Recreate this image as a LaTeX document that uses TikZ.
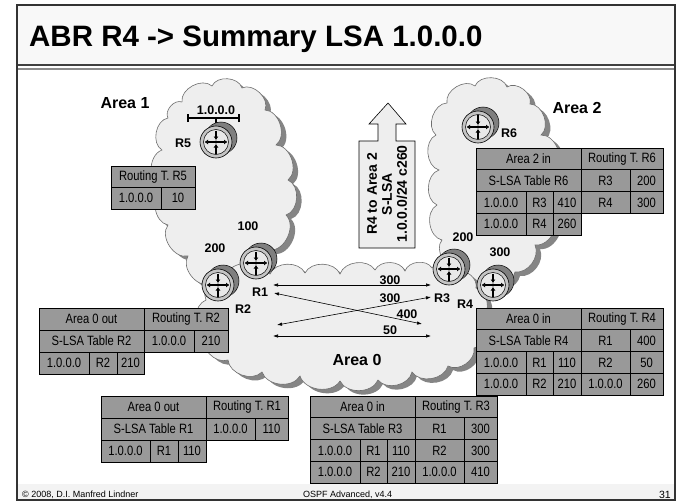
\documentclass[tikz,border=0pt]{standalone}
\usepackage{fontspec}
\setmainfont{Liberation Sans}
\newfontfamily\tabfont{Liberation Sans}[FakeStretch=0.83]
\usetikzlibrary{arrows.meta,shadows}

\definecolor{barfill}{HTML}{F8F8F8}
\definecolor{footfill}{HTML}{F3F3F3}
\definecolor{cloudfill}{HTML}{EEEEEE}
\definecolor{cloudline}{HTML}{6E6E6E}
\definecolor{cloudshadow}{HTML}{858585}
\definecolor{cellfill}{HTML}{999999}
\definecolor{routerside}{HTML}{7F7F7F}
\definecolor{routerface}{HTML}{C4C4C4}
\definecolor{routerin}{HTML}{E8E8E8}

\tikzset{
    areacloud/.style={fill=cloudfill, draw=cloudline, line width=0.6pt,
        drop shadow={shadow xshift=5pt, shadow yshift=-4pt, fill=cloudshadow, opacity=1}},
    tcell/.style={draw=black, fill=cellfill, line width=0.7pt, inner sep=0pt, outer sep=0pt,
        font=\tabfont\fontsize{13.5}{15}\selectfont},
    lbl/.style={font=\bfseries\fontsize{12.5}{14}\selectfont, inner sep=0pt},
    arealbl/.style={font=\bfseries\fontsize{16}{18}\selectfont, inner sep=0pt},
    link/.style={{Latex[length=5pt,width=3.5pt]}-{Latex[length=5pt,width=3.5pt]}, line width=0.6pt},
    cross/.style={line width=1.4pt},
}

% one table cell: name, x1, y1, x2, y2, text
\newcommand{\tabcell}[6]{%
    \node[tcell, minimum width={(#4-#2)*1pt}, minimum height={(#5-#3)*1pt}]
        (#1) at ({(#2+#4)/2},{(#3+#5)/2}) {#6};}

% router icon round a named coordinate
\newcommand{\routericon}[1]{%
    \draw[fill=routerside, line width=0.5pt] ([shift={(5,-4)}]#1) circle (16pt);
    \fill[routerside] ([shift={(2.5,-2)}]#1) circle (16pt);
    \draw[fill=routerface, line width=0.6pt] (#1) circle (16pt);
    \draw[fill=routerin, line width=0.5pt] (#1) circle (12.5pt);
    \draw[cross, {Latex[length=3.5pt,width=5pt]}-{Latex[length=3.5pt,width=5pt]}]
        ([xshift=-11.5pt]#1) -- ([xshift=11.5pt]#1);
    \draw[cross, -{Latex[length=3.5pt,width=5pt]}] ([yshift=11.5pt]#1) -- ([yshift=2pt]#1);
    \draw[cross, -{Latex[length=3.5pt,width=5pt]}] ([yshift=-11.5pt]#1) -- ([yshift=-2pt]#1);
    \fill (#1) circle (1.7pt);}

\begin{document}
\begin{tikzpicture}[x=1pt, y=-1pt]

    \useasboundingbox (0,0) rectangle (678,503);
    \fill[white] (0,0) rectangle (678,503);

    % slide frame
    \fill[barfill] (17,5) rectangle (675,65);
    \fill[footfill] (17,484) rectangle (675,500);
    \draw[line width=1.5pt, black!75] (17,65) -- (675,65);
    \draw[line width=2pt, black!45] (17,69) -- (675,69);
    \draw[line width=1.5pt, black!80] (17,5) rectangle (675,500);

    \node[anchor=base west, inner sep=0pt, font=\bfseries\fontsize{29.5}{32}\selectfont]
        (title) at (29,46.5) {ABR R4 -> Summary LSA 1.0.0.0};

    \node[anchor=base west, inner sep=0pt, font=\fontsize{9}{10}\selectfont]
        (copy) at (22,497) {© 2008, D.I. Manfred Lindner};
    \node[anchor=base west, inner sep=0pt, font=\fontsize{9}{10}\selectfont]
        (course) at (303,497) {OSPF Advanced, v4.4};
    \node[anchor=base east, inner sep=0pt, font=\fontsize{10.5}{12}\selectfont]
        (page) at (671,498.5) {31};

    % areas
    \draw[areacloud]
        (182,102) to[bend left=70] (212,86) to[bend left=70] (242,88)
        to[bend left=70] (265,110) to[bend left=70] (276,145)
        to[bend left=70] (288,180) to[bend left=70] (286,215)
        to[bend left=70] (270,250) to[bend left=60] (240,272)
        to[bend left=60] (210,284) to[bend left=70] (188,256)
        to[bend left=70] (168,225) to[bend left=70] (162,190)
        to[bend left=70] (162,150) to[bend left=70] (168,118)
        to[bend left=70] (182,102);

    \draw[areacloud]
        (447,103) to[bend left=70] (475,86) to[bend left=70] (507,87)
        to[bend left=70] (530,104) to[bend left=70] (541,135)
        to[bend left=70] (555,170) to[bend left=70] (553,210)
        to[bend left=70] (535,245) to[bend left=60] (515,272)
        to[bend left=60] (485,282) to[bend left=60] (458,268)
        to[bend left=70] (442,240) to[bend left=70] (437,205)
        to[bend left=70] (439,170) to[bend left=70] (436,135)
        to[bend left=70] (447,103);

    \draw[areacloud]
        (225,275) to[bend left=60] (270,274) to[bend left=65] (305,273)
        to[bend left=65] (340,274) to[bend left=65] (375,270) to[bend left=65] (405,271)
        to[bend left=65] (432,268) to[bend left=60] (458,272) to[bend left=60] (476,288)
        to[bend left=65] (482,318) to[bend left=65] (474,348)
        to[bend left=65] (448,366) to[bend left=65] (412,372)
        to[bend left=65] (378,380) to[bend left=65] (340,381)
        to[bend left=65] (300,376) to[bend left=65] (262,372)
        to[bend left=65] (228,360) to[bend left=65] (204,335)
        to[bend left=65] (206,300) to[bend left=60] (225,275);

    % summary LSA sent by R4
    \draw[fill=cloudfill, line width=0.6pt]
        (388,103) -- (406,124) -- (396,124) -- (396,141) -- (415,141) -- (415,248)
        -- (359,248) -- (359,141) -- (378,141) -- (378,124) -- (369,124) -- cycle;
    \node[rotate=90, align=center, inner sep=0pt, font=\bfseries\fontsize{14}{15}\selectfont]
        (lsa) at (387,194) {R4 to Area 2\\S-LSA\\1.0.0.0/24 c260};

    \coordinate (R1) at (256,263);
    \coordinate (R2) at (218,285);
    \coordinate (R3) at (449,269);
    \coordinate (R4) at (493,285);
    \coordinate (R5) at (216,142);
    \coordinate (R6) at (478,127);

    % stub network 1.0.0.0
    \coordinate (netL) at (188,118);
    \coordinate (netR) at (239,118);
    \coordinate (netM) at (216,118);
    \draw[line width=1.4pt] (netL) -- (netR);
    \draw[line width=1.2pt] ([yshift=-4pt]netL) -- ([yshift=4pt]netL)
        ([yshift=-4pt]netR) -- ([yshift=4pt]netR);
    \draw[line width=1.4pt] (netM) -- (R5);
    \node[lbl] (net) at (216,110.5) {1.0.0.0};

    % tables
    \begin{scope}[shift={(111,166)}]
        \tabcell{t5a}{0}{0}{84}{21.5}{Routing T. R5}
        \tabcell{t5b}{0}{21.5}{50}{43}{1.0.0.0}
        \tabcell{t5c}{50}{21.5}{84}{43}{10}
    \end{scope}

    \begin{scope}[shift={(476,148)}]
        \tabcell{t6a}{0}{0}{105}{21.75}{Area 2 in}
        \tabcell{t6b}{105}{0}{187}{21.75}{Routing T. R6}
        \tabcell{t6c}{0}{21.75}{105}{43.5}{S-LSA Table R6}
        \tabcell{t6d}{105}{21.75}{154}{43.5}{R3}
        \tabcell{t6e}{154}{21.75}{187}{43.5}{200}
        \tabcell{t6f}{0}{43.5}{50}{65.25}{1.0.0.0}
        \tabcell{t6g}{50}{43.5}{77}{65.25}{R3}
        \tabcell{t6h}{77}{43.5}{105}{65.25}{410}
        \tabcell{t6i}{105}{43.5}{154}{65.25}{R4}
        \tabcell{t6j}{154}{43.5}{187}{65.25}{300}
        \tabcell{t6k}{0}{65.25}{50}{87}{1.0.0.0}
        \tabcell{t6l}{50}{65.25}{77}{87}{R4}
        \tabcell{t6m}{77}{65.25}{105}{87}{260}
    \end{scope}

    \begin{scope}[shift={(476,308)}]
        \tabcell{t4a}{0}{0}{105}{21.75}{Area 0 in}
        \tabcell{t4b}{105}{0}{187}{21.75}{Routing T. R4}
        \tabcell{t4c}{0}{21.75}{105}{43.5}{S-LSA Table R4}
        \tabcell{t4d}{105}{21.75}{154}{43.5}{R1}
        \tabcell{t4e}{154}{21.75}{187}{43.5}{400}
        \tabcell{t4f}{0}{43.5}{50}{65.25}{1.0.0.0}
        \tabcell{t4g}{50}{43.5}{77}{65.25}{R1}
        \tabcell{t4h}{77}{43.5}{105}{65.25}{110}
        \tabcell{t4i}{105}{43.5}{154}{65.25}{R2}
        \tabcell{t4j}{154}{43.5}{187}{65.25}{50}
        \tabcell{t4k}{0}{65.25}{50}{87}{1.0.0.0}
        \tabcell{t4l}{50}{65.25}{77}{87}{R2}
        \tabcell{t4m}{77}{65.25}{105}{87}{210}
        \tabcell{t4n}{105}{65.25}{154}{87}{1.0.0.0}
        \tabcell{t4o}{154}{65.25}{187}{87}{260}
    \end{scope}

    \begin{scope}[shift={(310,396)}]
        \tabcell{t3a}{0}{0}{105}{21.75}{Area 0 in}
        \tabcell{t3b}{105}{0}{187}{21.75}{Routing T. R3}
        \tabcell{t3c}{0}{21.75}{105}{43.5}{S-LSA Table R3}
        \tabcell{t3d}{105}{21.75}{154}{43.5}{R1}
        \tabcell{t3e}{154}{21.75}{187}{43.5}{300}
        \tabcell{t3f}{0}{43.5}{50}{65.25}{1.0.0.0}
        \tabcell{t3g}{50}{43.5}{77}{65.25}{R1}
        \tabcell{t3h}{77}{43.5}{105}{65.25}{110}
        \tabcell{t3i}{105}{43.5}{154}{65.25}{R2}
        \tabcell{t3j}{154}{43.5}{187}{65.25}{300}
        \tabcell{t3k}{0}{65.25}{50}{87}{1.0.0.0}
        \tabcell{t3l}{50}{65.25}{77}{87}{R2}
        \tabcell{t3m}{77}{65.25}{105}{87}{210}
        \tabcell{t3n}{105}{65.25}{154}{87}{1.0.0.0}
        \tabcell{t3o}{154}{65.25}{187}{87}{410}
    \end{scope}

    \begin{scope}[shift={(39,308)}]
        \tabcell{t2a}{0}{0}{105}{22}{Area 0 out}
        \tabcell{t2b}{105}{0}{189}{22}{Routing T. R2}
        \tabcell{t2c}{0}{22}{105}{44}{S-LSA Table R2}
        \tabcell{t2d}{105}{22}{155}{44}{1.0.0.0}
        \tabcell{t2e}{155}{22}{189}{44}{210}
        \tabcell{t2f}{0}{44}{50}{66}{1.0.0.0}
        \tabcell{t2g}{50}{44}{78}{66}{R2}
        \tabcell{t2h}{78}{44}{105}{66}{210}
    \end{scope}

    \begin{scope}[shift={(101,396)}]
        \tabcell{t1a}{0}{0}{105}{22}{Area 0 out}
        \tabcell{t1b}{105}{0}{187}{22}{Routing T. R1}
        \tabcell{t1c}{0}{22}{105}{44}{S-LSA Table R1}
        \tabcell{t1d}{105}{22}{154}{44}{1.0.0.0}
        \tabcell{t1e}{154}{22}{187}{44}{110}
        \tabcell{t1f}{0}{44}{49}{66}{1.0.0.0}
        \tabcell{t1g}{49}{44}{77}{66}{R1}
        \tabcell{t1h}{77}{44}{105}{66}{110}
    \end{scope}

    % routers
    \routericon{R5}
    \routericon{R6}
    \routericon{R1}
    \routericon{R2}
    \routericon{R3}
    \routericon{R4}

    \node[lbl] (lR1) at (260,292.5) {R1};
    \node[lbl] (lR2) at (243,309) {R2};
    \node[lbl] (lR3) at (442,298) {R3};
    \node[lbl] (lR4) at (465,304) {R4};
    \node[lbl] (lR5) at (183,143) {R5};
    \node[lbl] (lR6) at (509,133) {R6};

    \node[lbl] (c100) at (248,226) {100};
    \node[lbl] (c200a) at (215,248) {200};
    \node[lbl] (c200b) at (463,237) {200};
    \node[lbl] (c300) at (500,252) {300};

    \node[arealbl] (area1) at (125,103) {Area 1};
    \node[arealbl] (area2) at (577,108) {Area 2};
    \node[arealbl] (area0) at (357,360) {Area 0};

    % costs across area 0
    \coordinate (a1s) at (273,285);
    \coordinate (a1e) at (431,285);
    \coordinate (a2s) at (274,293);
    \coordinate (a2e) at (422,324);
    \coordinate (a3s) at (277,325);
    \coordinate (a3e) at (431,297);
    \coordinate (a4s) at (273,336);
    \coordinate (a4e) at (431,336);

    \draw[link] (a1s) -- (a1e);
    \draw[link] (a2s) -- (a2e);
    \draw[link] (a3s) -- (a3e);
    \draw[link] (a4s) -- (a4e);

    \node[lbl, anchor=base] (k1) at (390,284) {300};
    \node[lbl, anchor=base] (k2) at (407,318) {400};
    \node[lbl, anchor=base] (k3) at (390,302) {300};
    \node[lbl, anchor=base] (k4) at (390,334.5) {50};

\end{tikzpicture}
\end{document}
